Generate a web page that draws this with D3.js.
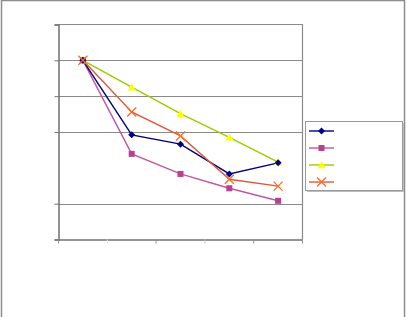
<!DOCTYPE html>
<html><head><meta charset="utf-8">
<script src="https://cdn.jsdelivr.net/npm/d3@7"></script>
<style>html,body{margin:0;padding:0;background:#fff;}svg{display:block;}</style>
</head><body>
<svg id="c" width="407" height="317"></svg>
<script>
// Data (tick labels in the source are unreadable / blank)
const categories = ["c1","c2","c3","c4","c5"];
const seriesNames = ["Series 1","Series 2","Series 3","Series 4"];
const series1 = [5.0, 2.92, 2.66, 1.83, 2.14];
const series2 = [5.0, 2.39, 1.83, 1.43, 1.08];
const series3 = [5.0, 4.25, 3.51, 2.85, 2.16];
const series4 = [5.0, 3.56, 2.89, 1.68, 1.49];
const yTicks = [0, 1, 3, 4, 5, 6];
const yDomain = [0, 6];

const svg = d3.select("#c");
// outer frame
svg.append("path").attr("d","M1.5,320 V0.5 H404.5 V320").attr("fill","none").attr("stroke","#8c8c8c").attr("stroke-width",1.5);

const L=58.5, R=302.5, T=24.5, B=239.5;
const x = d3.scaleBand().domain(categories).range([L,R]);
const y = d3.scaleLinear().domain(yDomain).range([B,T]);

// plot border top/right
svg.append("path").attr("d",`M${L},${T} H${R} V${B}`).attr("fill","none").attr("stroke","#8a8a8a").attr("stroke-width",1.2);
// gridlines
svg.append("g").selectAll("line").data(yTicks.filter(v=>v>0&&v<6)).join("line")
  .attr("x1",L).attr("x2",R).attr("y1",d=>Math.round(y(d))+0.5).attr("y2",d=>Math.round(y(d))+0.5)
  .attr("stroke","#8a8a8a").attr("stroke-width",1.2);

// axes
const yAxis = d3.axisLeft(y).tickValues(yTicks).tickSize(4).tickFormat("");
svg.append("g").attr("transform",`translate(${L},0)`).call(yAxis)
  .call(g=>{g.select(".domain").attr("stroke","#707070").attr("stroke-width",1.5);g.selectAll(".tick line").attr("stroke","#707070");});
const xAxis = d3.axisBottom(x).tickSize(0).tickFormat("");
const gx = svg.append("g").attr("transform",`translate(0,${B})`).call(xAxis);
gx.select(".domain").attr("stroke","#707070").attr("stroke-width",1.5);
gx.selectAll(".tick").remove();
gx.selectAll("line.b").data(d3.range(categories.length+1)).join("line").attr("class","b")
  .attr("x1",i=>L+i*x.step()).attr("x2",i=>L+i*x.step()).attr("y1",0).attr("y2",4)
  .attr("stroke",i=>i===1?"#e4e4e4":(i===3?"#c4c4c4":"#909090"));

const styles = [
  {data:series1, line:"#000080", fill:"#000080", shape:"diamond"},
  {data:series2, line:"#c256a0", fill:"#b8408e", shape:"square"},
  {data:series3, line:"#99cc00", fill:"#ffff00", shape:"triangle"},
  {data:series4, line:"#e0563c", fill:"#ff6a20", shape:"x"}
];
const cx = c => x(c) + x.bandwidth()/2;
const lineGen = d3.line().x((d,i)=>cx(categories[i])).y(d=>y(d));

function marker(g, shape, px, py, st){
  if(shape==="diamond"){
    g.append("path").attr("d",`M${px},${py-3.5} L${px+3.5},${py} L${px},${py+3.5} L${px-3.5},${py} Z`).attr("fill",st.fill);
  } else if(shape==="square"){
    g.append("rect").attr("x",px-3).attr("y",py-3).attr("width",6).attr("height",6).attr("fill",st.fill);
  } else if(shape==="triangle"){
    g.append("path").attr("d",`M${px},${py-4} L${px+4},${py+3.2} L${px-4},${py+3.2} Z`).attr("fill",st.fill);
  } else {
    g.append("path").attr("d",`M${px-4.5},${py-4.5} L${px+4.5},${py+4.5} M${px-4.5},${py+4.5} L${px+4.5},${py-4.5}`).attr("stroke",st.fill).attr("stroke-width",1.3).attr("fill","none");
  }
}

const order = [2,1,0,3];
order.forEach(k=>{
  const st = styles[k];
  svg.append("path").datum(st.data).attr("d",lineGen).attr("fill","none").attr("stroke",st.line).attr("stroke-width",1.4);
});
order.forEach(k=>{
  const st = styles[k];
  const g = svg.append("g");
  st.data.forEach((v,i)=>marker(g, st.shape, cx(categories[i]), y(v), st));
});

// legend
const lg = svg.append("g");
lg.append("rect").attr("x",307).attr("y",123).attr("width",97).attr("height",69).attr("fill","#bdbdbd");
lg.append("rect").attr("x",305.5).attr("y",121.5).attr("width",97).attr("height",69).attr("fill","#fff").attr("stroke","#9a9a9a").attr("stroke-width",1);
seriesNames.forEach((n,i)=>{
  const st = styles[i];
  const ly = 131 + i*17;
  lg.append("line").attr("x1",309).attr("x2",334).attr("y1",ly).attr("y2",ly).attr("stroke",st.line).attr("stroke-width",1.4);
  marker(lg, st.shape, 321.5, ly, st);
});
</script>
</body></html>
